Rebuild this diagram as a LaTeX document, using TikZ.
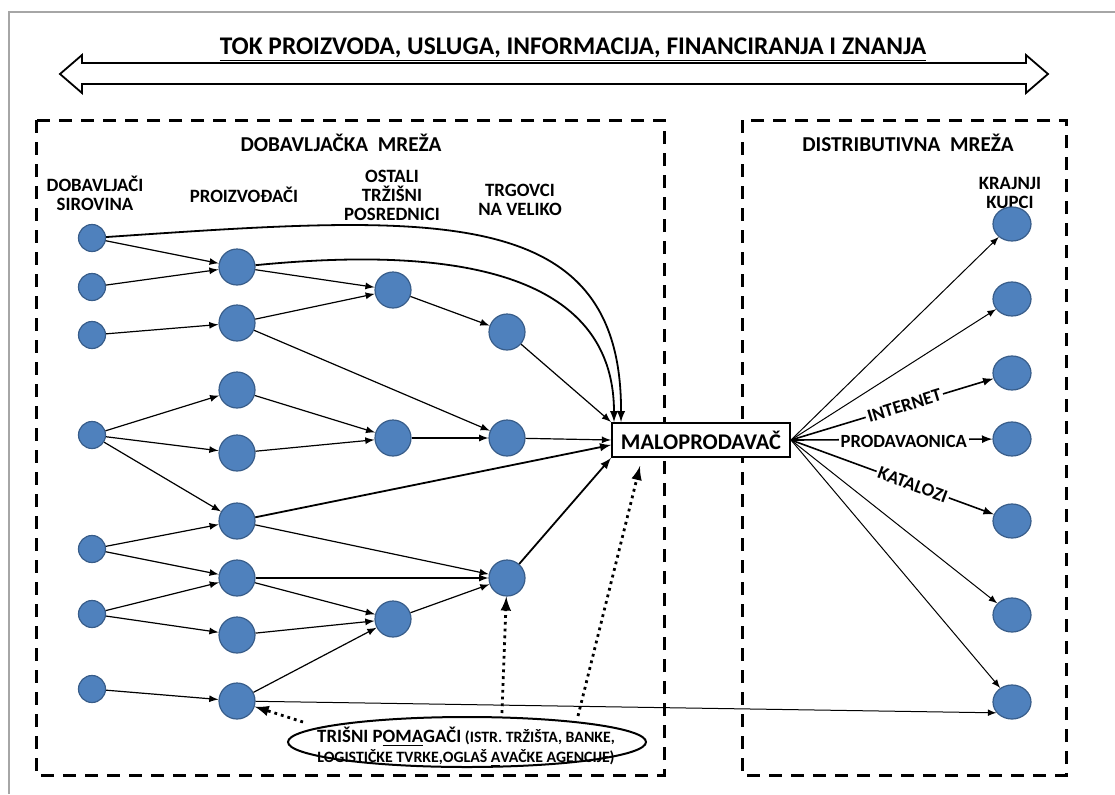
\documentclass[tikz,border=0pt]{standalone}
\usepackage{fontspec}
\setmainfont{Carlito}
\usetikzlibrary{shapes.geometric}
\definecolor{nodeblue}{RGB}{79,129,189}
\definecolor{nodeedge}{RGB}{56,93,138}
\tikzset{
  dobnode/.style={circle, fill=nodeblue, draw=nodeedge, line width=0.6pt, minimum size=13.5pt, inner sep=0pt},
  pronode/.style={dobnode, minimum size=18pt},
  kupnode/.style={ellipse, fill=nodeblue, draw=nodeedge, line width=0.6pt, minimum width=19pt, minimum height=17pt, inner sep=0pt},
  tok/.style={-latex, line width=0.6pt},
  kanal/.style={-latex, line width=0.5pt},
  pomoc/.style={-latex, dotted, line width=1.4pt},
  mreza/.style={dash pattern=on 6.5pt off 4.5pt, line width=1.5pt},
  naslov/.style={font=\bfseries\fontsize{9.4}{9.5}\selectfont, align=center, inner sep=0pt},
  oznaka/.style={fill=white, inner sep=1pt, font=\bfseries\fontsize{9.3}{10}\selectfont}
}
\begin{document}
\begin{tikzpicture}[x=0.5pt, y=-0.5pt]
        \useasboundingbox (0,0) rectangle (1115,794);
        \draw[gray!70, line width=0.8pt] (9,794) -- (9,12) -- (1115,12);
        % dvostruka strelica
        \draw[line width=0.9pt, fill=white] (60,74) -- (82,55) -- (82,63) -- (1026,63) -- (1026,55)
            -- (1048,74) -- (1026,93) -- (1026,84) -- (82,84) -- (82,93) -- cycle;
        \node[font=\bfseries\fontsize{12.7}{14}\selectfont, inner sep=0pt] (tok) at (573,50)
            {\underline{TOK PROIZVODA, USLUGA, INFORMACIJA, FINANCIRANJA I ZNANJA}};
        \draw[mreza] (36,120) rectangle (664,775);
        \draw[mreza] (742,120) rectangle (1066,775);
        \node[naslov, font=\bfseries\fontsize{10.6}{11}\selectfont] (dobmreza) at (341,143) {DOBAVLJAČKA\ \ MREŽA};
        \node[naslov, font=\bfseries\fontsize{10.6}{11}\selectfont] (distmreza) at (908,143) {DISTRIBUTIVNA\ \ MREŽA};
        \node[naslov] (ldob) at (95,193) {DOBAVLJAČI\\SIROVINA};
        \node[naslov] (lpro) at (244,195) {PROIZVOĐAČI};
        \node[naslov] (lost) at (392,195) {OSTALI\\TRŽIŠNI\\POSREDNICI};
        \node[naslov] (ltrg) at (520,200) {TRGOVCI\\NA VELIKO};
        \node[naslov] (lkup) at (1010,193) {KRAJNJI\\KUPCI};
        % dobavljaci sirovina
        \node[dobnode] (d1) at (92,238) {};
        \node[dobnode] (d2) at (92,287) {};
        \node[dobnode] (d3) at (92,335) {};
        \node[dobnode] (d4) at (92,435) {};
        \node[dobnode] (d5) at (92,549) {};
        \node[dobnode] (d6) at (92,614) {};
        \node[dobnode] (d7) at (92,689) {};
        % proizvodjaci
        \node[pronode] (p1) at (237,267) {};
        \node[pronode] (p2) at (237,323) {};
        \node[pronode] (p3) at (237,390) {};
        \node[pronode] (p4) at (237,453) {};
        \node[pronode] (p5) at (237,521) {};
        \node[pronode] (p6) at (237,578) {};
        \node[pronode] (p7) at (237,635) {};
        \node[pronode] (p8) at (237,701) {};
        % ostali posrednici i trgovci
        \node[pronode] (o1) at (393,290) {};
        \node[pronode] (o2) at (393,438) {};
        \node[pronode] (o3) at (393,619) {};
        \node[pronode] (t1) at (507,332) {};
        \node[pronode] (t2) at (507,438) {};
        \node[pronode] (t3) at (507,578) {};
        \node[draw, fill=white, line width=1pt, minimum width=89pt, minimum height=17pt, inner sep=0pt,
            font=\bfseries\fontsize{11.2}{12}\selectfont] (malo) at (701,440) {MALOPRODAVAČ};
        % krajnji kupci
        \node[kupnode] (k1) at (1012,224) {};
        \node[kupnode] (k2) at (1012,299) {};
        \node[kupnode] (k3) at (1012,373) {};
        \node[kupnode] (k4) at (1012,439) {};
        \node[kupnode] (k5) at (1012,521) {};
        \node[kupnode] (k6) at (1012,615) {};
        \node[kupnode] (k7) at (1012,702) {};
        % trzisni pomagaci
        \node[ellipse, draw, line width=1pt, minimum width=179pt, minimum height=25pt] (pom) at (467,742) {};
        \node[align=center, inner sep=0pt, font=\bfseries\fontsize{7.9}{10}\selectfont] (pomtekst) at (466,747)
            {{\fontsize{9.4}{10}\selectfont TRIŠNI P\underline{OMA}GAČI} (ISTR. TRŽIŠTA, BANKE,\\LOGISTIČKE TVRKE,OGLAŠ \underline{A}VAČKE AGENCIJE)};
        % veze
        \draw[tok] (d1) -- (p1);
        \draw[tok] (d2) -- (p1);
        \draw[tok] (d3) -- (p2);
        \draw[tok] (d4) -- (p3);
        \draw[tok] (d4) -- (p4);
        \draw[tok] (d4) -- (p5);
        \draw[tok] (d5) -- (p5);
        \draw[tok] (d5) -- (p6);
        \draw[tok] (d6) -- (p6);
        \draw[tok] (d6) -- (p7);
        \draw[tok] (d7) -- (p8);
        \draw[tok] (p1) -- (o1);
        \draw[tok] (p2) -- (o1);
        \draw[tok] (p2) -- (t2);
        \draw[tok] (p3) -- (o2);
        \draw[tok] (p4) -- (o2);
        \draw[tok] (p5) -- (t3);
        \draw[tok] (p6) -- (t3);
        \draw[tok] (p6) -- (o3);
        \draw[tok] (p7) -- (o3);
        \draw[tok] (p8) -- (o3);
        \draw[tok] (o1) -- (t1);
        \draw[tok] (o2) -- (t2);
        \draw[tok] (o3) -- (t3);
        \draw[tok] (t1) -- (malo.north west);
        \draw[tok] (t2) -- (malo.west);
        \draw[tok, line width=0.9pt] (p5) -- ([yshift=-2.5pt]malo.west);
        \draw[tok, line width=0.9pt] (t3) -- (malo.south west);
        \draw[tok, line width=0.9pt] (d1) .. controls (430,215) and (622,200) .. ([xshift=5pt]malo.north west);
        \draw[tok, line width=0.9pt] (p1) .. controls (430,248) and (614,262) .. ([xshift=1.5pt]malo.north west);
        \draw[kanal] (p8) -- (k7.215);
        % kanali prodaje
        \draw[kanal] (malo.east) -- (k1);
        \draw[kanal] (malo.east) -- (k2);
        \draw[kanal, line width=0.8pt] (malo.east) -- node[oznaka, pos=.56, sloped] {INTERNET} (k3);
        \draw[kanal, line width=0.8pt] (malo.east) -- node[oznaka, pos=.56, yshift=-1pt] {PRODAVAONICA} (k4);
        \draw[kanal, line width=0.8pt] (malo.east) -- node[oznaka, pos=.6, sloped] {KATALOZI} (k5);
        \draw[kanal] (malo.east) -- (k6);
        \draw[kanal] (malo.east) -- (k7);
        % pomagaci
        \coordinate (pomA) at (303,722);
        \coordinate (pomB) at (502,713);
        \coordinate (pomC) at (578,716);
        \coordinate (maloD) at (640,466);
        \draw[pomoc] (pomA) -- (p8);
        \draw[pomoc] (pomB) -- (t3);
        \draw[pomoc] (pomC) -- (maloD);
    \end{tikzpicture}
\end{document}
